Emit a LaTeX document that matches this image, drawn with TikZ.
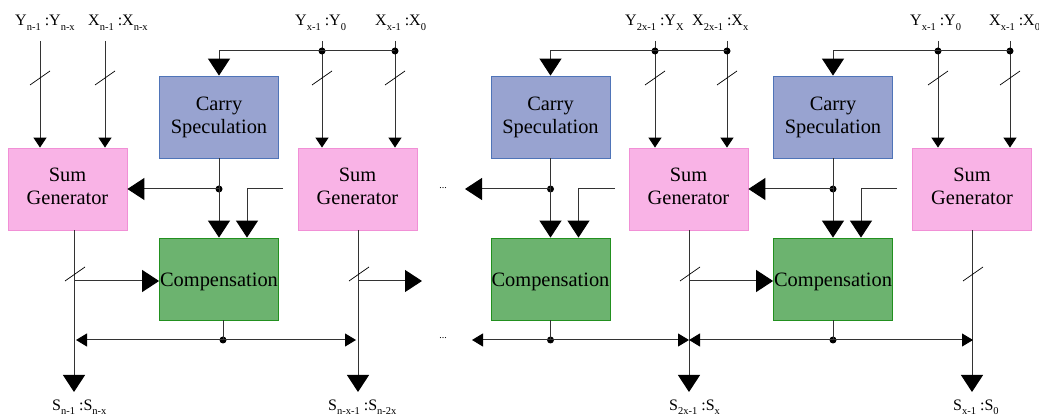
\documentclass[tikz,border=0pt]{standalone}
\usepackage{fontspec}
\setmainfont{Liberation Serif}
\usetikzlibrary{arrows.meta}
\definecolor{csfill}{HTML}{98A3D0}
\definecolor{csdraw}{HTML}{4F74B8}
\definecolor{sgfill}{HTML}{F9B3E6}
\definecolor{sgdraw}{HTML}{F190D6}
\definecolor{cofill}{HTML}{6CB36F}
\definecolor{codraw}{HTML}{22901F}
\definecolor{wirecol}{HTML}{333333}
% lowered small subscript, as in the bus labels
\newcommand\subx[1]{\raisebox{-0.3em}{\fontsize{10.5}{10.5}\selectfont #1}}
% block caption whose last baseline sits #1 below the block centre
\newcommand\blocktext[2]{\raisebox{-#1}[0pt][0pt]{\begin{tabular}[b]{@{}c@{}}#2\end{tabular}}}
\begin{document}
\begin{tikzpicture}[x=1pt,y=-1pt,
  blockbox/.style={draw, line width=0.8pt, minimum width=119pt, minimum height=82pt,
    inner sep=0pt, align=center, font=\fontsize{20.4}{23}\selectfont},
  carrybox/.style={blockbox, fill=csfill, draw=csdraw},
  sumbox/.style={blockbox, fill=sgfill, draw=sgdraw},
  compbox/.style={blockbox, fill=cofill, draw=codraw},
  wire/.style={draw=wirecol, line width=1pt},
  big/.style={wire, -{Triangle[length=17pt,width=22pt,color=black]}},
  small/.style={wire, -{Triangle[length=10pt,width=13pt,color=black]}},
  bus/.style={wire, {Triangle[length=11pt,width=13pt,color=black]}-{Triangle[length=11pt,width=13pt,color=black]}},
  dot/.style={circle, fill=black, inner sep=0pt, minimum size=7pt},
  iolabel/.style={inner sep=0pt, anchor=base west, font=\fontsize{16}{16}\selectfont},
  ellip/.style={inner sep=0pt, font=\fontsize{10}{10}\selectfont},
  busmark/.pic={\draw[black, line width=0.7pt] (-10,7) -- (10,-7);}
]
\useasboundingbox (0,0) rectangle (1039,419);

% ---------------- blocks ----------------
\node[sumbox]   (sg1) at (67.5,189)  {\blocktext{15.5pt}{Sum\\Generator}};
\node[carrybox] (cs1) at (219,117)   {\blocktext{17pt}{Carry\\Speculation}};
\node[compbox]  (co1) at (219,279)   {\blocktext{8pt}{Compensation}};
\node[sumbox]   (sg2) at (357.5,189) {\blocktext{15.5pt}{Sum\\Generator}};

\node[carrybox] (cs2) at (550.5,117) {\blocktext{17pt}{Carry\\Speculation}};
\node[compbox]  (co2) at (550.5,279) {\blocktext{8pt}{Compensation}};
\node[sumbox]   (sg3) at (688.5,189) {\blocktext{15.5pt}{Sum\\Generator}};

\node[carrybox] (cs3) at (833,117)   {\blocktext{17pt}{Carry\\Speculation}};
\node[compbox]  (co3) at (833,279)   {\blocktext{8pt}{Compensation}};
\node[sumbox]   (sg4) at (972,189)   {\blocktext{15.5pt}{Sum\\Generator}};

% ---------------- operand labels ----------------
\node[iolabel] (l1) at (15,26)  {Y\subx{n-1} :Y\subx{n-x}};
\node[iolabel] (l2) at (88,26)  {X\subx{n-1} :X\subx{n-x}};
\node[iolabel] (l3) at (295,26) {Y\subx{x-1} :Y\subx{0}};
\node[iolabel] (l4) at (375,26) {X\subx{x-1} :X\subx{0}};
\node[iolabel] (l5) at (625,26) {Y\subx{2x-1} :Y\subx{X}};
\node[iolabel] (l6) at (692,26) {X\subx{2x-1} :X\subx{x}};
\node[iolabel] (l7) at (910,26) {Y\subx{x-1} :Y\subx{0}};
\node[iolabel] (l8) at (989,26) {X\subx{x-1} :X\subx{0}};

\node[iolabel] (s1) at (52,410)  {S\subx{n-1} :S\subx{n-x}};
\node[iolabel] (s2) at (328,410) {S\subx{n-x-1} :S\subx{n-2x}};
\node[iolabel] (s3) at (669,410) {S\subx{2x-1} :S\subx{x}};
\node[iolabel] (s4) at (953,410) {S\subx{x-1} :S\subx{0}};

\node[ellip] (e1) at (443,188) {...};
\node[ellip] (e2) at (443,338) {...};

% ---------------- operand inputs ----------------
\coordinate (a-y) at (40,41);   \coordinate (a-x) at (105,41);
\coordinate (b-y) at (322,41);  \coordinate (b-x) at (395,41);
\coordinate (c-y) at (655,41);  \coordinate (c-x) at (727,41);
\coordinate (d-y) at (938,41);  \coordinate (d-x) at (1010,41);

\draw[small] (a-y) -- (a-y |- sg1.north);
\draw[small] (a-x) -- (a-x |- sg1.north);
\draw[small] (b-y) -- (b-y |- sg2.north);
\draw[small] (b-x) -- (b-x |- sg2.north);
\draw[small] (c-y) -- (c-y |- sg3.north);
\draw[small] (c-x) -- (c-x |- sg3.north);
\draw[small] (d-y) -- (d-y |- sg4.north);
\draw[small] (d-x) -- (d-x |- sg4.north);

\foreach \p in {a-y,a-x,b-y,b-x,c-y,c-x,d-y,d-x}
  \pic at ([yshift=-37pt]\p) {busmark};

% taps feeding the carry speculation blocks
\node[dot] (b-yd) at (322,51) {};  \node[dot] (b-xd) at (395,51) {};
\node[dot] (c-yd) at (655,51) {};  \node[dot] (c-xd) at (727,51) {};
\node[dot] (d-yd) at (938,51) {};  \node[dot] (d-xd) at (1010,51) {};
\draw[big] (b-xd.center) -- (cs1.north |- b-xd.center) -- (cs1.north);
\draw[big] (c-xd.center) -- (cs2.north |- c-xd.center) -- (cs2.north);
\draw[big] (d-xd.center) -- (cs3.north |- d-xd.center) -- (cs3.north);

% ---------------- carry speculation outputs ----------------
\node[dot] (a-cd) at (cs1.south |- sg1.east) {};
\node[dot] (b-cd) at (cs2.south |- sg1.east) {};
\node[dot] (c-cd) at (cs3.south |- sg1.east) {};
\draw[big] (cs1.south) -- (co1.north);
\draw[big] (cs2.south) -- (co2.north);
\draw[big] (cs3.south) -- (co3.north);
\coordinate (b-left) at (465,189);
\draw[big] (a-cd.center) -- (sg1.east);
\draw[big] (b-cd.center) -- (b-left);
\draw[big] (c-cd.center) -- (sg3.east);

% second compensation input
\coordinate (a-c2) at (283,189);
\coordinate (b-c2) at (615,189);
\coordinate (c-c2) at (897,189);
\draw[big] (a-c2) -| ([xshift=28pt]co1.north);
\draw[big] (b-c2) -| ([xshift=28pt]co2.north);
\draw[big] (c-c2) -| ([xshift=28pt]co3.north);

% ---------------- sum outputs ----------------
\coordinate (o1) at (74,392);
\coordinate (o2) at (358,392);
\coordinate (o3) at (689,392);
\coordinate (o4) at (972,392);
\draw[big] (o1 |- sg1.south) -- (o1);
\draw[big] (o2 |- sg2.south) -- (o2);
\draw[big] (o3 |- sg3.south) -- (o3);
\draw[big] (o4 |- sg4.south) -- (o4);
\foreach \p in {o1,o2,o3,o4}
  \pic at ([xshift=1pt,yshift=118pt]\p) {busmark};

% partial sums into the compensation blocks
\coordinate (b-right) at (422,281);
\coordinate (a-cin) at (co1.west |- b-right);
\coordinate (c-cin) at (co3.west |- b-right);
\draw[big] (o1 |- a-cin) -- (a-cin);
\draw[big] (o2 |- b-right) -- (b-right);
\draw[big] (o3 |- c-cin) -- (c-cin);

% ---------------- correction buses ----------------
\node[dot] (a-bd) at (223,340) {};
\node[dot] (b-bd) at (550.5,340) {};
\node[dot] (c-bd) at (833,340) {};
\draw[wire] ([xshift=4pt]co1.south) -- (a-bd.center);
\draw[wire] (co2.south) -- (b-bd.center);
\draw[wire] (co3.south) -- (c-bd.center);

\coordinate (a-bl) at (76,340);  \coordinate (a-br) at (356,340);
\coordinate (b-bl) at (472,340); \coordinate (b-br) at (689,340);
\coordinate (c-bl) at (689,340); \coordinate (c-br) at (973,340);
\draw[bus] (a-bl) -- (a-br);
\draw[bus] (b-bl) -- (b-br);
\draw[bus] (c-bl) -- (c-br);
\end{tikzpicture}
\end{document}
